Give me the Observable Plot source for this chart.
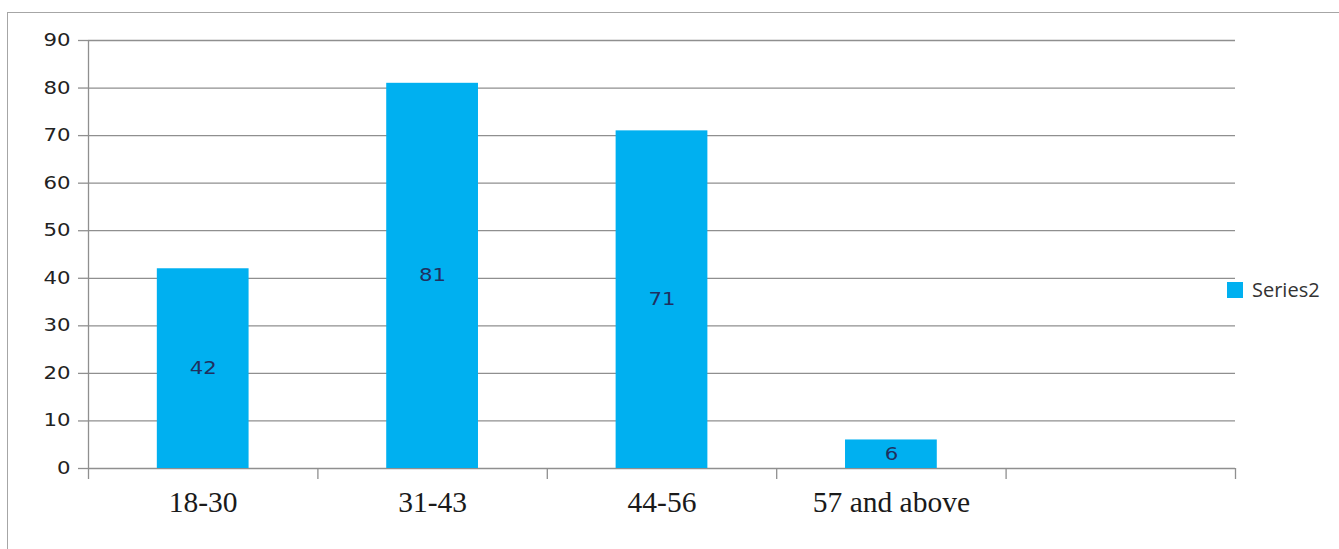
<!DOCTYPE html>
<html>
<head>
<meta charset="utf-8">
<script src="https://cdn.jsdelivr.net/npm/d3@7"></script>
<script src="https://cdn.jsdelivr.net/npm/@observablehq/plot@0.6"></script>
<style>
  html, body { margin: 0; padding: 0; background: #fff; overflow: hidden; }
  #wrap { position: relative; width: 1339px; height: 549px; }
  #frame { position: absolute; left: 7px; top: 12px; width: 2000px; height: 1000px;
           border: 1px solid #a6a6a6; box-sizing: border-box; pointer-events: none; }
  #chart { position: absolute; left: 0; top: 0; }
  #legend { position: absolute; left: 1227px; top: 276px; display: flex; align-items: center;
            font-family: "Open Sans", sans-serif; font-size: 20px; color: #333; white-space: nowrap; }
  #legend .sw { width: 16px; height: 16px; background: #00B0F0; margin-right: 9px; }
</style>
</head>
<body>
<div id="wrap">
  <div id="chart"></div>
  <div id="frame"></div>
  <div id="legend"><div class="sw"></div><span>Series2</span></div>
</div>
<script>
const categories = ["18-30", "31-43", "44-56", "57 and above"];
const values = [42, 81, 71, 6];
const slotCount = 5; // category slots on the axis (the last one is empty)
const yTicks = [0, 10, 20, 30, 40, 50, 60, 70, 80, 90];
const seriesName = "Series2";

const gridColor = "#8f8f8f";
const barColor = "#00B0F0";

const plot = Plot.plot({
  width: 1339,
  height: 549,
  marginLeft: 88,
  marginRight: 104,
  marginTop: 40,
  marginBottom: 81,
  style: { background: "transparent", fontFamily: "DejaVu Sans" },
  x: { domain: [0, slotCount], axis: null },
  y: { domain: [0, 90], axis: null },
  marks: [
    Plot.ruleY(yTicks, { x1: 0, x2: slotCount, stroke: gridColor, strokeWidth: 1.3 }),
    Plot.ruleX([0], { y1: 0, y2: 90, stroke: gridColor, strokeWidth: 1.3 }),
    Plot.axisX({ ticks: d3.range(slotCount + 1), tickSize: 11, tickFormat: () => "", stroke: gridColor, strokeWidth: 1.3 }),
    Plot.axisY({ ticks: yTicks, tickSize: 10, tickPadding: 8, fontSize: 17, stroke: gridColor, strokeWidth: 1.3, fill: "#222" }),
    Plot.rectY(values, { x1: (d, i) => i + 0.3, x2: (d, i) => i + 0.7, y1: 0, y2: d => d, fill: barColor }),
    Plot.text(values, { x: (d, i) => i + 0.5, y: d => d / 2, text: d => String(d), fontSize: 17, fill: "#1f3060" }),
    Plot.text(categories, { x: (d, i) => i + 0.5, frameAnchor: "bottom", dy: 43, text: d => d, fontSize: 29.5, fontFamily: "Liberation Serif", fill: "#1a1a1a" })
  ]
});

document.getElementById("chart").appendChild(plot);
document.querySelector("#legend span").textContent = seriesName;

// widen the sans-serif labels horizontally (around their anchor), as in the reference
const stretch = 1.25;
plot.querySelectorAll("text").forEach(t => {
  if (!t.textContent.trim()) return;
  if (getComputedStyle(t).fontFamily.includes("Serif")) return;
  const bb = t.getBBox();
  const anchor = getComputedStyle(t).textAnchor || "start";
  let ax = bb.x;
  if (anchor === "end") ax = bb.x + bb.width;
  else if (anchor === "middle") ax = bb.x + bb.width / 2;
  const tr = t.getAttribute("transform") || "";
  t.setAttribute("transform", `${tr} translate(${ax},0) scale(${stretch},1) translate(${-ax},0)`);
});
</script>
</body>
</html>
